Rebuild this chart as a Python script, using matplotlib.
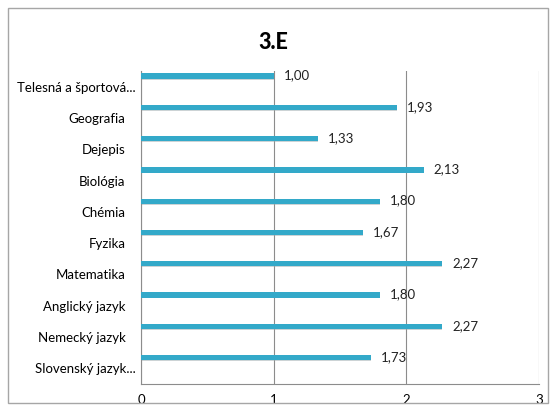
import numpy as np
import matplotlib.pyplot as plt
import matplotlib.transforms as mtrans
from matplotlib.patches import Rectangle

plt.rcParams['font.family'] = ['Lato', 'DejaVu Sans']

# dáta
predmety = ['Slovenský jazyk...', 'Nemecký jazyk', 'Anglický jazyk', 'Matematika', 'Fyzika',
            'Chémia', 'Biológia', 'Dejepis', 'Geografia', 'Telesná a športová...']
hodnoty = [1.73, 2.27, 1.80, 2.27, 1.67, 1.80, 2.13, 1.33, 1.93, 1.00]
popisky = ['1,73', '2,27', '1,80', '2,27', '1,67', '1,80', '2,13', '1,33', '1,93', '1,00']

fig = plt.figure(figsize=(5.53, 4.11), dpi=100)
# rámček okolo grafu
fig.patches.append(Rectangle((8/553, 8/411), 540/553, 395/411, transform=fig.transFigure,
                             fill=False, edgecolor='#a6a6a6', lw=1))
ax = fig.add_axes([0.255, 0.066, 0.72, 0.761])

y = np.arange(len(predmety))
off = 0.34
# tieň
ax.barh(y + off - 0.05, hodnoty, height=0.12, color='#9aa9ad', alpha=0.5, zorder=2)
ax.barh(y + off, hodnoty, height=0.17, color='#33a9c9', zorder=3)

for yi, v, t in zip(y, hodnoty, popisky):
    ax.text(v + 0.075, yi + off + 0.02, t, va='center', ha='left', fontsize=9.5, color='#222222')

ax.set_xlim(0, 3)
ax.set_ylim(-0.5, 9.5)
ax.set_xticks([0, 1, 2, 3])
ax.set_yticks(y)
ax.set_yticklabels(predmety, fontsize=9.5)
ax.tick_params(axis='x', labelsize=9.5, length=0, pad=7)
ax.tick_params(axis='y', length=0, pad=4)
# nezkrátené popisky sú odsadené viac
for lab in ax.get_yticklabels():
    if not lab.get_text().endswith('...'):
        lab.set_transform(lab.get_transform() + mtrans.ScaledTranslation(-0.1, 0, fig.dpi_scale_trans))
ax.xaxis.grid(True, color='#8c8c8c', lw=0.8)
ax.set_axisbelow(True)
for s in ['top', 'right']:
    ax.spines[s].set_visible(False)
for s in ['left', 'bottom']:
    ax.spines[s].set_color('#8c8c8c')
    ax.spines[s].set_linewidth(0.8)

fig.text(0.495, 0.897, '3.E', ha='center', va='center', fontsize=15.5, fontweight='black')

fig.savefig('out.png', dpi=100)
